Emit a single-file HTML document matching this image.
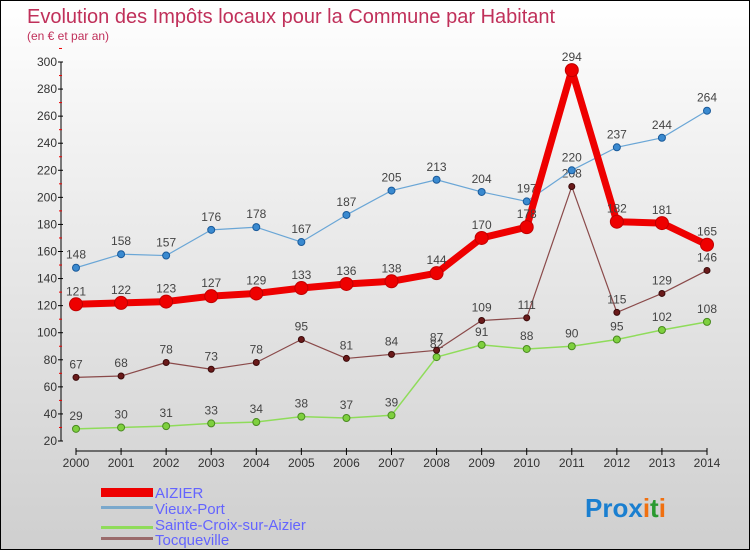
<!DOCTYPE html>
<html><head><meta charset="utf-8"><style>
body{margin:0}
#c{width:748px;height:548px;border:1px solid #000;background:linear-gradient(#fff,#f2f2f2 25%,#cfcfcf);position:relative;overflow:hidden;font-family:"Liberation Sans",sans-serif}
</style></head><body>
<div id="c">
<svg width="748" height="548" id="svg">
<text x="26" y="22" font-size="20" fill="#c0305a">Evolution des Impôts locaux pour la Commune par Habitant</text>
<text x="26" y="39" font-size="12" fill="#c0305a">(en € et par an)</text>
<g id="axes"></g><g id="series"></g>
<g font-size="15" fill="#6464ff">
<rect x="100" y="487" width="52" height="9" fill="#e00"/>
<text x="154" y="497">AIZIER</text>
<rect x="100" y="505" width="52" height="3" fill="#7aa8cc"/>
<text x="154" y="513">Vieux-Port</text>
<rect x="100" y="525" width="52" height="3" fill="#8fdc5a"/>
<text x="154" y="529">Sainte-Croix-sur-Aizier</text>
<rect x="100" y="536" width="52" height="3" fill="#9a6b6b"/>
<text x="154" y="544">Tocqueville</text>
</g>
<g font-size="26" font-weight="bold">
<text x="584" y="516"><tspan fill="#1a7fd0">Pro</tspan><tspan fill="#1a7fd0">x</tspan><tspan fill="#f07010">i</tspan><tspan fill="#2a9a30">t</tspan><tspan fill="#f07010">i</tspan></text>
</g>
</svg></div>
<script>
const years=[2000,2001,2002,2003,2004,2005,2006,2007,2008,2009,2010,2011,2012,2013,2014];
const yTicks=[20,40,60,80,100,120,140,160,180,200,220,240,260,280,300];
const aizier=[121,122,123,127,129,133,136,138,144,170,178,294,182,181,165];
const vieuxPort=[148,158,157,176,178,167,187,205,213,204,197,220,237,244,264];
const sainteCroix=[29,30,31,33,34,38,37,39,82,91,88,90,95,102,108];
const tocqueville=[67,68,78,73,78,95,81,84,87,109,111,208,115,129,146];
const NS="http://www.w3.org/2000/svg";
function X(i){return 75+i*(706-75)/(years.length-1);}
function Y(v){return 440-(v-20)*(379/280);}
function el(t,a,p){const e=document.createElementNS(NS,t);for(const k in a)e.setAttribute(k,a[k]);p.appendChild(e);return e;}
const ax=document.getElementById('axes');
let yl=el('line',{x1:60,y1:Y(300),x2:60,y2:Y(20),stroke:'#000'},ax);


yTicks.forEach(v=>{
 const t=el('line',{x1:57,x2:62,y1:Y(v),y2:Y(v),stroke:'#000'},ax);
 
 
 const m=el('line',{x1:58,x2:61,y1:Y(v+10),y2:Y(v+10),stroke:'#e00'},ax);
 
 
 const tx=el('text',{x:56,y:Y(v)+4,'text-anchor':'end','font-size':12,fill:'#333'},ax);
 tx.textContent=v;
 
 
});
let xl=el('line',{x1:X(0),y1:450,x2:X(years.length-1),y2:450,stroke:'#000'},ax);


years.forEach((y,i)=>{
 const t=el('line',{x1:X(i),x2:X(i),y1:447,y2:454,stroke:'#000'},ax);
 
 
 const tx=el('text',{x:X(i),y:466,'text-anchor':'middle','font-size':12,fill:'#333'},ax);
 tx.textContent=y;
 
 
});
const sg=document.getElementById('series');
function draw(name,data,color,w,r,dot,dotStroke){
 const g=el('g',{},sg);
 
 
 const p=el('polyline',{points:data.map((v,i)=>X(i)+','+Y(v)).join(' '),fill:'none',stroke:color,'stroke-width':w,'stroke-linejoin':'round'},g);
 
 
 data.forEach((v,i)=>{
  const c=el('circle',{cx:X(i),cy:Y(v),r:r,fill:dot,stroke:dotStroke,'stroke-width':1},g);
  
  
  const t=el('text',{x:X(i),y:Y(v)-9,'text-anchor':'middle','font-size':12,fill:'#444'},g);
  t.textContent=v;
  
  
 });
}
draw('sainte-croix',sainteCroix,'#8fdc5a',1.5,3.5,'#7ed03e','#4a8a20');
draw('tocqueville',tocqueville,'#8a4a4a',1.2,3,'#6a1a1a','#3a0a0a');
draw('vieux-port',vieuxPort,'#6aa6d6',1.2,3.5,'#3a8ad0','#1a5a9a');
draw('aizier',aizier,'#ee0000',7,6.5,'#ee0000','#c00000');
</script>
</body></html>
